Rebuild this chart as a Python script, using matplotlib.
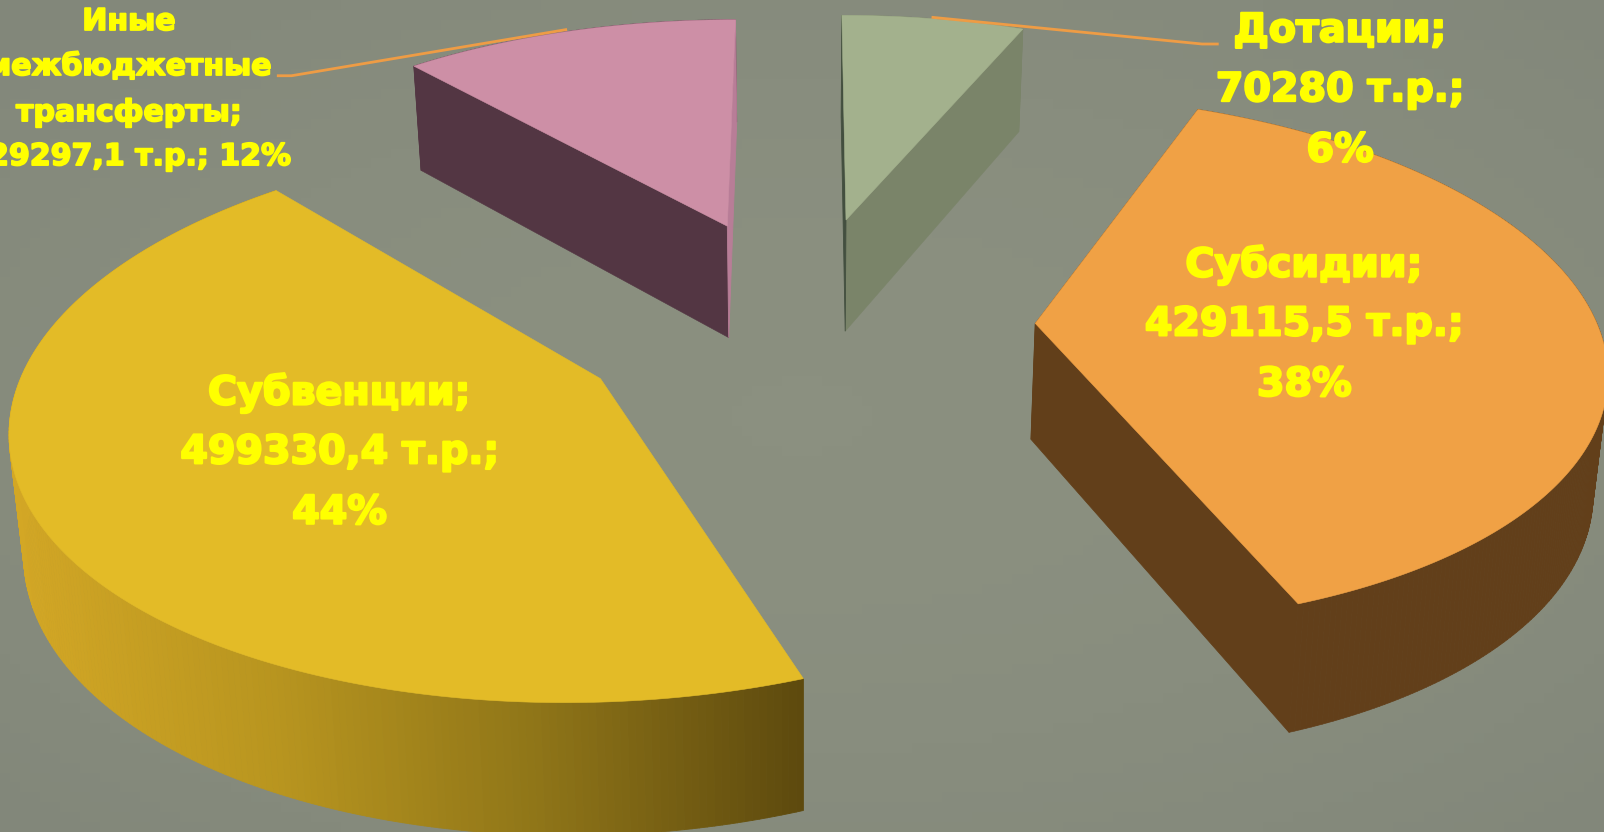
import numpy as np
import matplotlib
matplotlib.use("Agg")
import matplotlib.pyplot as plt
import matplotlib.patheffects as pe
from matplotlib.patches import Polygon
from matplotlib.collections import PolyCollection
from matplotlib.colors import LinearSegmentedColormap

# ---- data ----
categories = ["Дотации", "Субсидии", "Субвенции", "Иные\nмежбюджетные\nтрансферты"]
values = [70280, 429115.5, 499330.4, 129297.1]
percent_labels = ["6%", "38%", "44%", "12%"]
value_labels = ["70280 т.р.", "429115,5 т.р.", "499330,4 т.р.", "129297,1 т.р."]

# ---- style / layout (canvas units 1568 x 813) ----
BG = "#898E7E"
top_colors = ["#A3B18D", "#F0A145", "#E3BB27", "#CD8FA6"]
wall_colors = ["#7A8469", "#623F1A", None, "#533643"]
near_wall_colors = ["#434F3F", "#623F1A", None, "#B87D97"]
# explode anchor and projective parameters per slice: cx, cy, a, b, shear, k
proj = [(827, 215, 523, 228, 4.6, 0.14),
        (1012, 316, 549, 255, 32.6, 0.138),
        (587, 370, 567, 271, -30, 0.144),
        (711, 221, 524, 230, -9.1, 0.14)]
VPX, SHRINK, D0, DK = 786, 0.0185, 99, 0.045

fig = plt.figure(figsize=(16.04, 8.32), dpi=100, facecolor=BG)
ax = fig.add_axes([0, 0, 1, 1])
ax.set_facecolor(BG)

# soft vignette behind the pie
gx, gy = np.meshgrid(np.linspace(-1, 1, 160), np.linspace(-1, 1, 84))
shade = np.clip((gx ** 2 + gy ** 2) / 2, 0, 1)
bg_cmap = LinearSegmentedColormap.from_list("bg", ["#8B9080", "#82877A"])
ax.imshow(shade, cmap=bg_cmap, aspect="auto", extent=[0, 1568, 813, 0], zorder=0, vmin=0, vmax=1)


def project(theta, radius, p):
    cx, cy, a, b, s, k = p
    x = radius * np.sin(theta)
    y = -radius * np.cos(theta)
    d = 1 - k * y
    return cx + (a * x + s * y) / d, cy + b * y / d


def lower(x, y):
    return x + SHRINK * (VPX - x), y + D0 + DK * y


def strips(x0, y0, x1, y1):
    return [np.array([[x0[j], y0[j]], [x0[j + 1], y0[j + 1]],
                      [x1[j + 1], y1[j + 1]], [x1[j], y1[j]]]) for j in range(len(x0) - 1)]


fractions = np.array(values) / np.sum(values)
edges = np.concatenate([[0], np.cumsum(fractions)]) * 2 * np.pi
gold = LinearSegmentedColormap.from_list("w", ["#D3A725", "#B8951F", "#8F7518", "#5E4A0E"])

for i in [3, 0, 1, 2]:
    th = np.linspace(edges[i], edges[i + 1], 240)
    p = proj[i]
    ax_x, ax_y = project(th, 1.0, p)
    cx, cy = p[0], p[1]
    top = np.column_stack([np.r_[cx, ax_x], np.r_[cy, ax_y]])
    lx, ly = lower(ax_x, ax_y)
    clx, cly = lower(cx, cy)

    quads = strips(ax_x, ax_y, lx, ly)
    start_wall = np.array([[cx, cy], [ax_x[0], ax_y[0]], [lx[0], ly[0]], [clx, cly]])
    end_wall = np.array([[cx, cy], [ax_x[-1], ax_y[-1]], [lx[-1], ly[-1]], [clx, cly]])

    if wall_colors[i] is None:
        mids = np.array([q[:, 0].mean() for q in quads])
        t = (mids - mids.min()) / (mids.max() - mids.min())
        cols = gold(t)
        ax.add_collection(PolyCollection(quads, facecolors=cols, edgecolors=cols, linewidths=0.6, zorder=2))
    else:
        if i == 0:
            near, far = start_wall, end_wall
        else:
            near, far = end_wall, start_wall
        ax.add_collection(PolyCollection(quads, facecolors=wall_colors[i], edgecolors=wall_colors[i],
                                         linewidths=0.5, zorder=2.1))
        ax.add_patch(Polygon(far, closed=True, fc=wall_colors[i], ec=wall_colors[i], lw=0.4, zorder=2.2))
        ax.add_patch(Polygon(near, closed=True, fc=near_wall_colors[i], ec=near_wall_colors[i], lw=0.6, zorder=2.3))
    ax.add_patch(Polygon(top, closed=True, fc=top_colors[i], ec=top_colors[i], lw=0.4, zorder=3))

# leader lines
LEAD = "#EE9C45"
ax.plot([272, 285, 553], [74, 74, 29], color=LEAD, lw=2, zorder=4, solid_joinstyle="round")
ax.plot([912, 1175, 1190], [17, 43, 43], color=LEAD, lw=2, zorder=4, solid_joinstyle="round")

# labels
YEL = "#FFFF00"
big = dict(color=YEL, fontsize=28.5, fontweight="bold", ha="center", va="center",
           family="DejaVu Sans", zorder=5,
           path_effects=[pe.withStroke(linewidth=1.6, foreground=YEL)])
small = dict(big, fontsize=21.6, path_effects=[pe.withStroke(linewidth=1.3, foreground=YEL)])
label_pos = [(1310, [30, 88, 147]), (1275, [259, 317, 376]), (332, [384, 442, 501])]
for i, (x, ys) in enumerate(label_pos):
    lines = [categories[i] + ";", value_labels[i] + ";", percent_labels[i]]
    for y, t in zip(ys, lines):
        ax.text(x, y, t, **big)
name_lines = categories[3].split("\n")
lines = name_lines[:-1] + [name_lines[-1] + ";", f"{value_labels[3]}; {percent_labels[3]}"]
for y, t in zip([21, 65, 110, 153], lines):
    ax.text(126, y, t, **small)

ax.set_xlim(0, 1568)
ax.set_ylim(813, 0)
ax.set_aspect("auto")
ax.axis("off")
fig.savefig("out.png", dpi=100, facecolor=BG)
